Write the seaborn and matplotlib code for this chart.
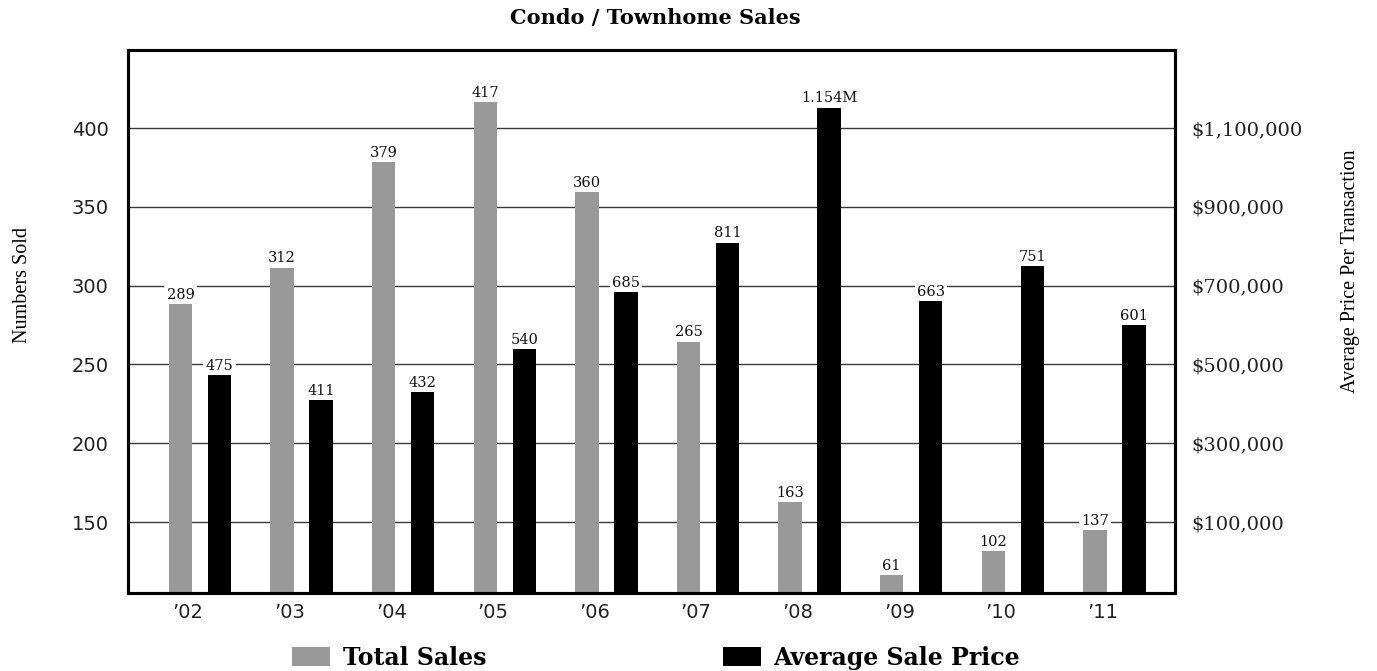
import numpy as np
import matplotlib
matplotlib.use("Agg")
import matplotlib.pyplot as plt
from matplotlib.patches import Patch
import seaborn as sns

# ---- data -------------------------------------------------------------
years = ["’02", "’03", "’04", "’05", "’06", "’07", "’08", "’09", "’10", "’11"]
total_sales = [289, 312, 379, 417, 360, 265, 163, 61, 102, 137]
avg_price = [475000, 411000, 432000, 540000, 685000, 811000, 1154000,
             663000, 751000, 601000]
sales_ticks = [150, 200, 250, 300, 350, 400]
price_ticks = [100000, 300000, 500000, 700000, 900000, 1100000]

GRAY = "#999999"
BLACK = "#000000"
GRID = "#3a3a3a"

sns.set_style("white")

W, H = 1377, 671
fig = plt.figure(figsize=(W / 100, H / 100), dpi=100)
ax = fig.add_axes([128 / W, 1 - 593 / H, 1047 / W, 543 / H])
ax2 = ax.twinx()

pos = np.arange(len(years), dtype=float)
price_pos = pos + 0.384

sns.barplot(x=pos, y=total_sales, orient="x", native_scale=True, width=0.23,
            color=GRAY, saturation=1, errorbar=None, linewidth=0, ax=ax)
sns.barplot(x=price_pos, y=avg_price, orient="x", native_scale=True, width=0.23,
            color=BLACK, saturation=1, errorbar=None, linewidth=0, ax=ax2)


# Both value axes are linear from their lowest tick upward; the stretch
# between zero and that tick is squeezed so every bar starts at the floor.
def make_scale(pivot, k):
    def fwd(v):
        v = np.asarray(v, dtype=float)
        return np.where(v < pivot, pivot - (pivot - v) * k, v)

    def inv(u):
        u = np.asarray(u, dtype=float)
        return np.where(u < pivot, pivot - (pivot - u) / k, u)

    return fwd, inv


sales_fwd, sales_inv = make_scale(150.0, 0.37)
ax.set_yscale("function", functions=(sales_fwd, sales_inv))
ax.set_ylim(float(sales_inv(105.0)), 449.5)
ax.set_yticks(sales_ticks)
ax.set_yticklabels([str(t) for t in sales_ticks], fontsize=14,
                   fontfamily="DejaVu Sans", color="#222222")
ax.tick_params(axis="y", length=0, pad=14)
ax.yaxis.grid(True, color=GRID, linewidth=1.0)
ax.xaxis.grid(False)
ax.set_axisbelow(True)

price_fwd, price_inv = make_scale(100000.0, 1.802)
ax2.set_yscale("function", functions=(price_fwd, price_inv))
ax2.set_ylim(0, 1298000)
ax2.set_yticks(price_ticks)
ax2.set_yticklabels([f"${t:,}" for t in price_ticks], fontsize=14,
                    fontfamily="DejaVu Serif", color="#222222")
ax2.tick_params(axis="y", length=0, pad=12)
ax2.grid(False)

ax.set_xlim(-0.517, 9.788)
ax.set_xticks(pos + 0.075)
ax.set_xticklabels(years, fontsize=14, fontfamily="DejaVu Sans", color="#222222")
ax.tick_params(axis="x", length=0, pad=7)

for a in (ax, ax2):
    a.set_xlabel("")
    a.set_ylabel("")
    for s in a.spines.values():
        s.set_visible(True)
        s.set_color("black")
        s.set_linewidth(2.2)

label_kw = dict(textcoords="offset points", xytext=(0, 1), ha="center",
                va="bottom", fontsize=10.5, fontfamily="DejaVu Serif",
                color="#111111",
                bbox=dict(boxstyle="square,pad=0.15", fc="white", ec="none"))

for x, v in zip(pos, total_sales):
    ax.annotate(str(v), xy=(x, v), **label_kw)

for x, v in zip(price_pos, avg_price):
    txt = f"{v / 1e6:.3f}M" if v >= 1e6 else f"{v / 1000:.0f}"
    ax2.annotate(txt, xy=(x, v), **label_kw)

# titles and axis captions
fig.text(655 / W, 1 - 18 / H, "Condo / Townhome Sales", ha="center", va="center",
         fontfamily="DejaVu Serif", fontweight="bold", fontsize=15, color="black")
fig.text(23 / W, 1 - 285 / H, "Numbers Sold", rotation=90, ha="center",
         va="center", fontfamily="Liberation Serif", fontsize=14.5, color="black")
fig.text(1351 / W, 1 - 271 / H, "Average Price Per Transaction", rotation=90,
         ha="center", va="center", fontfamily="Liberation Serif", fontsize=14.5,
         color="black")

handles = [Patch(facecolor=GRAY, edgecolor="none", label="Total Sales"),
           Patch(facecolor=BLACK, edgecolor="none", label="Average Sale Price")]
leg = fig.legend(handles=handles, loc="center left",
                 bbox_to_anchor=(292 / W, 1 - 658 / H), ncol=2, frameon=False,
                 prop=dict(family="DejaVu Serif", weight="bold", size=17),
                 handlelength=1.61, handleheight=0.85, handletextpad=0.55,
                 columnspacing=10.0, borderpad=0, borderaxespad=0)
for t in leg.get_texts():
    t.set_color("black")

fig.savefig("out.png", dpi=100)
